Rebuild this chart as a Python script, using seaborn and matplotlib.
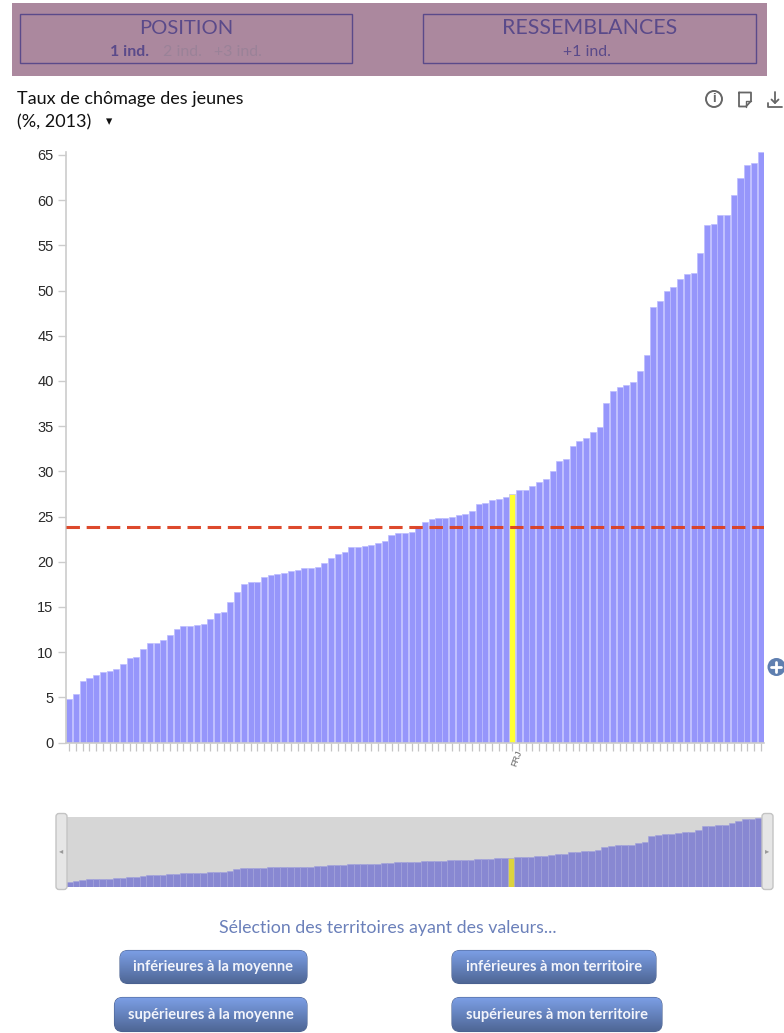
import matplotlib
matplotlib.use('Agg')
import matplotlib.pyplot as plt
import numpy as np
import pandas as pd
import seaborn as sns
from matplotlib.patches import Circle, FancyBboxPatch, Rectangle
from matplotlib.transforms import ScaledTranslation

# Youth unemployment, sorted
values = [4.8, 5.4, 6.75, 7.1, 7.5, 7.8, 7.9, 8.1, 8.7, 9.3, 9.45, 10.3, 11.0, 11.0, 11.3,
          11.9, 12.6, 12.9, 12.9, 13.0, 13.1, 13.7, 14.3, 14.4, 15.5, 16.6, 17.5, 17.7, 17.8,
          18.3, 18.5, 18.6, 18.7, 19.0, 19.1, 19.3, 19.3, 19.4, 19.9, 20.4, 20.8, 21.1, 21.6,
          21.6, 21.7, 21.9, 22.1, 22.3, 22.9, 23.2, 23.2, 23.3, 23.8, 24.4, 24.7, 24.8, 24.8,
          25.0, 25.2, 25.3, 25.6, 26.4, 26.5, 26.8, 26.9, 27.2, 27.5, 27.9, 27.9, 28.4, 28.8,
          29.2, 30.0, 31.1, 31.4, 32.8, 33.3, 33.7, 34.3, 34.9, 37.6, 38.9, 39.3, 39.6, 39.9,
          41.1, 42.9, 48.2, 48.8, 50.0, 50.4, 51.3, 51.8, 51.9, 54.2, 57.3, 57.4, 58.4, 58.4,
          60.6, 62.5, 63.9, 64.1, 65.3]
mean_value = 23.85
my_territory = 'FRJ'
my_rank = 66
y_ticks = [0, 5, 10, 15, 20, 25, 30, 35, 40, 45, 50, 55, 60, 65]
buttons = ['inférieures à la moyenne', 'inférieures à mon territoire',
           'supérieures à la moyenne', 'supérieures à mon territoire']

W, H = 784, 1033
sns.set_theme(style='white')
plt.rcParams['font.family'] = ['Liberation Sans', 'DejaVu Sans']
UI_FONT = ['Lato', 'DejaVu Sans']

df = pd.DataFrame({'rank': range(len(values)), 'value': values})
df['mine'] = df['rank'] == my_rank


def px_axes(fig, left, top, right, bottom):
    return fig.add_axes([left / W, 1 - bottom / H, (right - left) / W, (bottom - top) / H])


fig = plt.figure(figsize=(W / 100, H / 100), dpi=100)

# Main bars
ax = px_axes(fig, 66, 152, 764, 742.5)
sns.barplot(data=df, x='rank', y='value', hue='mine', dodge=False, legend=False, ax=ax,
            palette={False: '#9696FB', True: '#FFFF33'}, width=0.9, saturation=1,
            linewidth=0.5, edgecolor='#BDBDFF')
ax.set_xlim(-0.5, len(values) - 0.5)
ax.set_ylim(0, 590.5 / 9.04)
ax.axhline(mean_value, color='#DC3F20', lw=2.2, dashes=(4.4, 2.2), alpha=0.95, zorder=5)
ax.set_xlabel('')
ax.set_ylabel('')
ax.set_yticks(y_ticks)
ax.set_xticks(df['rank'])
ax.set_xticklabels([my_territory if r == my_rank else '' for r in df['rank']],
                   rotation=70, fontsize=6.5, color='#666666')
ax.tick_params(axis='y', length=6, width=1, color='#CCCCCC', labelsize=10.5,
               labelcolor='#2A2A2A', pad=3, left=True)
ax.tick_params(axis='x', length=5.5, width=0.9, color='#C4C4C4', pad=3, bottom=True)
# The label sits a little right of its tick
shift = ScaledTranslation(4 / 100, 5 / 100, fig.dpi_scale_trans)
for lab in ax.get_xticklabels():
    lab.set_transform(lab.get_transform() + shift)
for side in ['top', 'right']:
    ax.spines[side].set_visible(False)
for side in ['left', 'bottom']:
    ax.spines[side].set_color('#CCCCCC')
    ax.spines[side].set_linewidth(1.2)

# Overview strip under the chart
mini = px_axes(fig, 66, 817, 762, 887)
sns.barplot(data=df, x='rank', y='value', hue='mine', dodge=False, legend=False, ax=mini,
            palette={False: '#8888D2', True: '#DDD33E'}, width=1, saturation=1,
            linewidth=0.4, edgecolor='#A3A3DC')
mini.set_xlim(-0.5, len(values) - 0.5)
mini.set_ylim(0, 66)
mini.set_axis_off()
mini.add_patch(Rectangle((0, 0), 1, 1, transform=mini.transAxes, color='#D6D6D6', zorder=0))

# Page furniture, drawn in pixel coordinates
ui = fig.add_axes([0, 0, 1, 1], zorder=10)
ui.set_xlim(0, W)
ui.set_ylim(H, 0)
ui.set_axis_off()
ui.patch.set_alpha(0)

ui.add_patch(Rectangle((12, 3), 755, 73, color='#AB889E', lw=0))
INK = '#5A4A8A'
ui.add_patch(Rectangle((20, 13.5), 332.5, 49, fill=False, ec=INK, lw=1))
ui.add_patch(Rectangle((423.5, 13.5), 332.5, 49, fill=False, ec=INK, lw=1))
ui.text(186, 28, 'POSITION', ha='center', va='center', fontsize=14.5, color=INK, family=UI_FONT)
ui.text(589.5, 28, 'RESSEMBLANCES', ha='center', va='center', fontsize=15.4, color=INK, family=UI_FONT)
ui.text(130, 52, '1 ind.', ha='center', va='center', fontsize=11.5, color=INK, weight='bold', family=UI_FONT)
ui.text(182, 52, '2 ind.', ha='center', va='center', fontsize=11.5, color='#9A8298', family=UI_FONT)
ui.text(238, 52, '+3 ind.', ha='center', va='center', fontsize=11.5, color='#9A8298', family=UI_FONT)
ui.text(587, 52, '+1 ind.', ha='center', va='center', fontsize=11.5, color=INK, family=UI_FONT)

ui.text(17, 99, 'Taux de chômage des jeunes', ha='left', va='center', fontsize=13, color='#111111', family=UI_FONT)
ui.text(17, 122, '(%, 2013)', ha='left', va='center', fontsize=13, color='#111111', family=UI_FONT)
ui.text(109, 122, '▾', ha='center', va='center', fontsize=9, color='#111111', family=['DejaVu Sans'])

# Toolbar icons
GREY = '#666666'
ui.add_patch(Circle((714, 99), 8, fill=False, ec=GREY, lw=1.4))
ui.text(714, 99, 'i', ha='center', va='center', fontsize=9.5, weight='bold', color=GREY)
ui.plot([739, 751, 751, 746, 739, 739], [92.5, 92.5, 101, 106.5, 106.5, 92.5], color=GREY, lw=1.3)
ui.plot([746, 746, 751], [106.5, 101, 101], color=GREY, lw=1)
ui.plot([775, 775], [92, 103], color=GREY, lw=1.3)
ui.plot([771.5, 775, 778.5], [99.5, 103, 99.5], color=GREY, lw=1.3)
ui.plot([768, 768, 782], [103, 107, 107], color=GREY, lw=1.3)

# Zoom button at the right edge
ui.add_patch(Circle((776.5, 667), 9, color='#5F7FB0', lw=0))
ui.plot([771.5, 781.5], [667, 667], color='white', lw=2)
ui.plot([776.5, 776.5], [662, 672], color='white', lw=2)

# Range handles of the overview strip
for x0, arrow in [(56, '◂'), (762, '▸')]:
    ui.add_patch(FancyBboxPatch((x0, 813.5), 11, 76, boxstyle='round,pad=0,rounding_size=3',
                                fc='#E6E6E6', ec='#C4C4C4', lw=1))
    ui.text(x0 + 5.5, 851, arrow, ha='center', va='center', fontsize=6, color='#999999',
            family=['DejaVu Sans'])

ui.text(388, 928, 'Sélection des territoires ayant des valeurs...', ha='center', va='center',
        fontsize=12.8, color='#6B80BA', family=UI_FONT)

# Buttons with a vertical gradient
shade = np.linspace(0, 1, 64).reshape(-1, 1)
cmap = matplotlib.colors.LinearSegmentedColormap.from_list('btn', ['#7C9FE6', '#4F6796'])
boxes = [(120, 950.5, 187, 33), (452, 950.5, 204, 33), (114.5, 997.5, 192.5, 34), (452, 997.5, 210, 34)]
for label, (x0, y0, w, h) in zip(buttons, boxes):
    patch = FancyBboxPatch((x0, y0), w, h, boxstyle='round,pad=0,rounding_size=8',
                           fc='none', ec='#4A6190', lw=0.8)
    ui.add_patch(patch)
    im = ui.imshow(shade, extent=(x0, x0 + w, y0 + h, y0), cmap=cmap, aspect='auto', zorder=1)
    im.set_clip_path(patch)
    ui.text(x0 + w / 2, y0 + h / 2, label, ha='center', va='center', fontsize=10.5, weight='bold',
            color='#F2F4FB', family=UI_FONT, zorder=3)
ui.set_xlim(0, W)
ui.set_ylim(H, 0)

fig.savefig('out.png', dpi=100, facecolor='white')
